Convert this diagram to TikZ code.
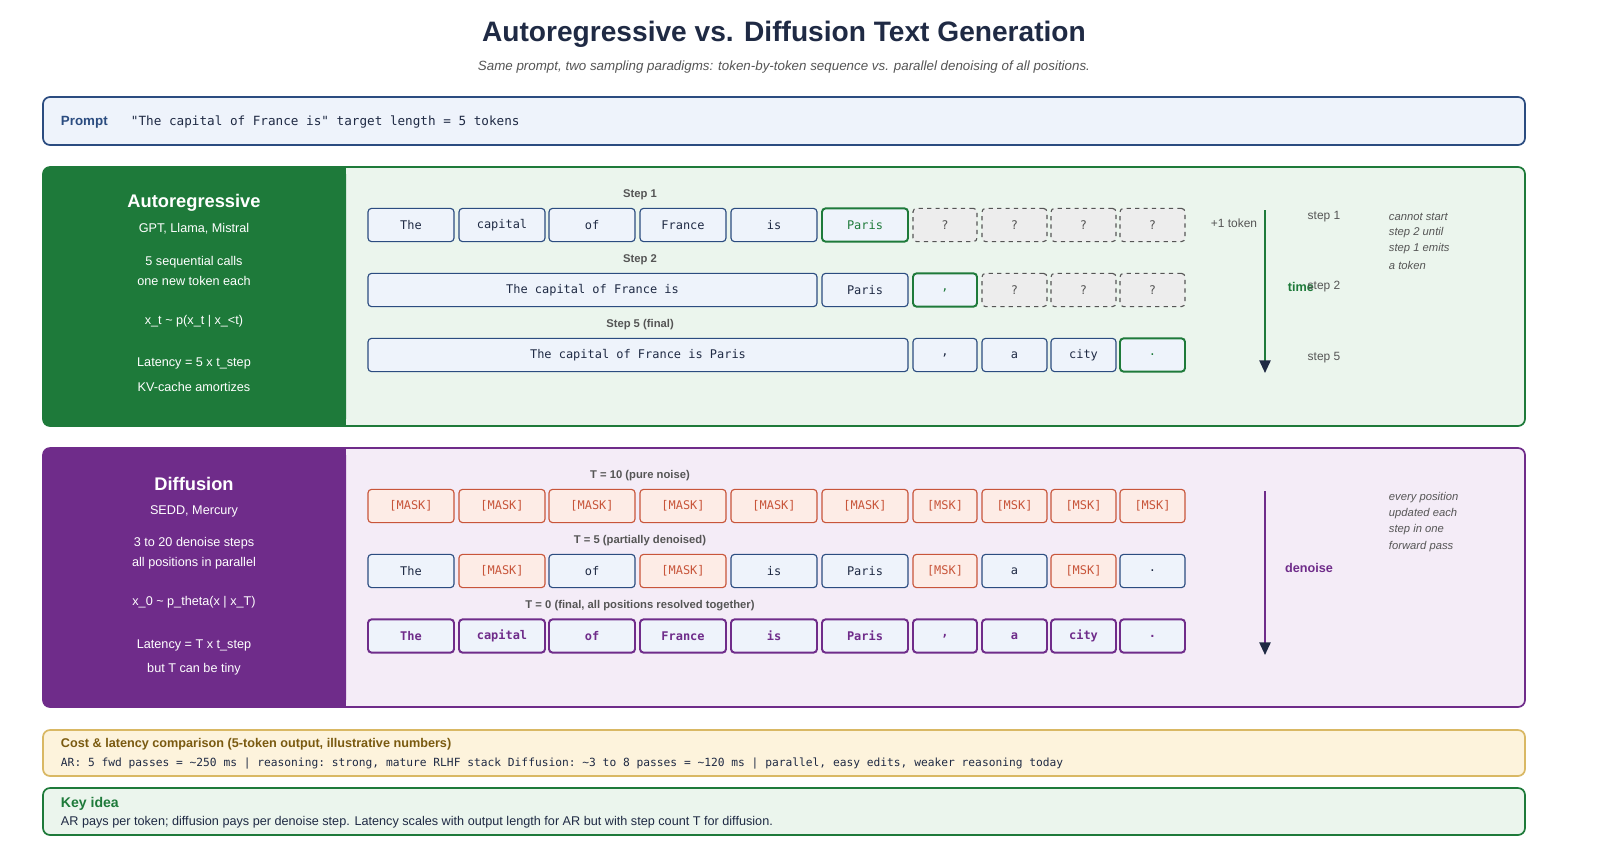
\documentclass[tikz,border=0pt]{standalone}
\usepackage{fontspec}
\setmainfont{Liberation Sans}
\setmonofont{DejaVu Sans Mono}
\usetikzlibrary{arrows.meta}
\definecolor{navy}{HTML}{1F2A44}
\definecolor{arG}{HTML}{1E7A3A}
\definecolor{arBg}{HTML}{EBF5ED}
\definecolor{dfP}{HTML}{6F2C8A}
\definecolor{dfBg}{HTML}{F4ECF7}
\definecolor{tkB}{HTML}{2B4C80}
\definecolor{tkBg}{HTML}{EEF3FB}
\definecolor{mkR}{HTML}{C8553A}
\definecolor{mkBg}{HTML}{FDECE6}
\definecolor{gry}{HTML}{555555}
\definecolor{cstBg}{HTML}{FDF3DC}
\definecolor{cstB}{HTML}{D9B864}
\definecolor{cstT}{HTML}{7A5A10}
\newcommand{\fs}[1]{\fontsize{#1}{#1}\selectfont}
\newcommand{\tok}[6][blu]{\node[tok,#1,minimum width={(#4-#3-2)*0.025cm}] (#2) at ({(#3+#4)/2},#5) {#6};}

\begin{document}
\begin{tikzpicture}[x=0.025cm,y=-0.025cm,
panel/.style={draw, line width=1.2pt, rounded corners=5pt},
tok/.style={rectangle, rounded corners=2.5pt, line width=0.8pt, minimum height=0.83cm, inner sep=0pt, font=\ttfamily\fs{8.5}},
blu/.style={draw=tkB, fill=tkBg, text=navy},
msk/.style={draw=mkR, fill=mkBg, text=mkR},
unk/.style={draw=gry, dashed, fill=black!7, text=gry},
newg/.style={draw=arG, line width=1.4pt, fill=tkBg, text=arG},
fin/.style={draw=dfP, line width=1.4pt, fill=tkBg, text=dfP, font=\ttfamily\bfseries\fs{8.5}},
lbl/.style={font=\bfseries\fs{8}, text=gry},
side/.style={text=white, font=\fs{9}, align=center},
note/.style={font=\itshape\fs{8}, text=gry, anchor=west},
]
\useasboundingbox[fill=white] (0,0) rectangle (1600,861);

% title
\node (title) at (784,34) {\bfseries\fs{20}\color{navy}Autoregressive vs. Diffusion Text Generation};
\node (sub) at (784,67) {\itshape\fs{9.5}\color{gry}Same prompt, two sampling paradigms: token-by-token sequence vs. parallel denoising of all positions.};

% prompt
\draw[panel, draw=tkB, fill=tkBg] (43,97) rectangle (1525,145);
\node[anchor=west, text=tkB, font=\bfseries\fs{9.5}] (prm) at (56,122) {Prompt};
\node[anchor=west, text=navy, font=\ttfamily\fs{9}] (prmtxt) at (126,122) {"The capital of France is" target length = 5 tokens};

% autoregressive panel
\draw[panel, draw=arG, fill=arBg] (43,167) rectangle (1525,426);
\fill[arG, rounded corners=5pt] (43,167) rectangle (346,426);
\fill[arG] (300,167) rectangle (346,426);
\node[side, font=\bfseries\fs{13}] (arh) at (194,203) {Autoregressive};
\node[side] (ar1) at (194,229) {GPT, Llama, Mistral};
\node[side] (ar2) at (194,262) {5 sequential calls};
\node[side] (ar3) at (194,281) {one new token each};
\node[side] (ar4) at (194,321) {x\_t \textasciitilde{} p(x\_t | x\_<t)};
\node[side] (ar5) at (194,363) {Latency = 5 x t\_step};
\node[side] (ar6) at (194,387) {KV-cache amortizes};

\node[lbl] (s1) at (640,195) {Step 1};
\tok{a1}{367}{455}{225}{The}
\tok{a2}{458}{546}{225}{capital}
\tok{a3}{548}{636}{225}{of}
\tok{a4}{639}{727}{225}{France}
\tok{a5}{730}{818}{225}{is}
\tok[newg]{a6}{821}{909}{225}{Paris}
\foreach \i/\xa/\xb in {7/912/978, 8/981/1048, 9/1050/1117, 10/1119/1186}
  {\tok[unk]{a\i}{\xa}{\xb}{225}{?}}

\node[lbl] (s2) at (640,260) {Step 2};
\tok{b1}{367}{818}{290}{The capital of France is}
\tok{b2}{821}{909}{290}{Paris}
\tok[newg]{b3}{912}{978}{290}{,}
\foreach \i/\xa/\xb in {4/981/1048, 5/1050/1117, 6/1119/1186}
  {\tok[unk]{b\i}{\xa}{\xb}{290}{?}}

\node[lbl] (s5) at (640,325) {Step 5 (final)};
\tok{c1}{367}{909}{355}{The capital of France is Paris}
\tok{c2}{912}{978}{355}{,}
\tok{c3}{981}{1048}{355}{a}
\tok{c4}{1050}{1117}{355}{city}
\tok[newg]{c5}{1119}{1186}{355}{.}

\coordinate (tA) at (1265,210);
\coordinate (tB) at (1265,373);
\draw[arG, line width=1.3pt, -{Triangle[color=navy, length=9pt, width=8pt]}] (tA) -- (tB);
\node[font=\fs{8.5}, text=gry] (plus) at (1234,223) {+1 token};
\node[font=\bfseries\fs{9}, text=arG, anchor=west] (time) at (1283,287) {time};
\node[font=\fs{8.5}, text=gry] (st1) at (1324,217) {step 1};
\node[font=\fs{8.5}, text=gry] (st2) at (1324,287) {step 2};
\node[font=\fs{8.5}, text=gry] (st5) at (1324,358) {step 5};
\node[note] (n1) at (1384,217) {cannot start};
\node[note] (n2) at (1384,233) {step 2 until};
\node[note] (n3) at (1384,249) {step 1 emits};
\node[note] (n4) at (1384,265) {a token};

% diffusion panel
\draw[panel, draw=dfP, fill=dfBg] (43,448) rectangle (1525,707);
\fill[dfP, rounded corners=5pt] (43,448) rectangle (346,707);
\fill[dfP] (300,448) rectangle (346,707);
\node[side, font=\bfseries\fs{13}] (dfh) at (194,484) {Diffusion};
\node[side] (df1) at (194,511) {SEDD, Mercury};
\node[side] (df2) at (194,543) {3 to 20 denoise steps};
\node[side] (df3) at (194,563) {all positions in parallel};
\node[side] (df4) at (194,602) {x\_0 \textasciitilde{} p\_theta(x | x\_T)};
\node[side] (df5) at (194,645) {Latency = T x t\_step};
\node[side] (df6) at (194,669) {but T can be tiny};

\node[lbl] (t10) at (640,476) {T = 10 (pure noise)};
\foreach \i/\xa/\xb in {1/367/455, 2/458/546, 3/548/636, 4/639/727, 5/730/818, 6/821/909}
  {\tok[msk]{d\i}{\xa}{\xb}{506}{[MASK]}}
\foreach \i/\xa/\xb in {7/912/978, 8/981/1048, 9/1050/1117, 10/1119/1186}
  {\tok[msk]{d\i}{\xa}{\xb}{506}{[MSK]}}

\node[lbl] (t5) at (640,541) {T = 5 (partially denoised)};
\tok{e1}{367}{455}{571}{The}
\tok[msk]{e2}{458}{546}{571}{[MASK]}
\tok{e3}{548}{636}{571}{of}
\tok[msk]{e4}{639}{727}{571}{[MASK]}
\tok{e5}{730}{818}{571}{is}
\tok{e6}{821}{909}{571}{Paris}
\tok[msk]{e7}{912}{978}{571}{[MSK]}
\tok{e8}{981}{1048}{571}{a}
\tok[msk]{e9}{1050}{1117}{571}{[MSK]}
\tok{e10}{1119}{1186}{571}{.}

\node[lbl] (t0) at (640,606) {T = 0 (final, all positions resolved together)};
\foreach \i/\xa/\xb/\w in {1/367/455/The, 2/458/546/capital, 3/548/636/of, 4/639/727/France, 5/730/818/is, 6/821/909/Paris, 7/912/978/{,}, 8/981/1048/a, 9/1050/1117/city, 10/1119/1186/.}
  {\tok[fin]{f\i}{\xa}{\xb}{636}{\w}}

\coordinate (dA) at (1265,491);
\coordinate (dB) at (1265,655);
\draw[dfP, line width=1.3pt, -{Triangle[color=navy, length=9pt, width=8pt]}] (dA) -- (dB);
\node[font=\bfseries\fs{9}, text=dfP] (den) at (1309,568) {denoise};
\node[note] (m1) at (1384,498) {every position};
\node[note] (m2) at (1384,514) {updated each};
\node[note] (m3) at (1384,530) {step in one};
\node[note] (m4) at (1384,547) {forward pass};

% cost box
\draw[panel, draw=cstB, fill=cstBg] (43,730) rectangle (1525,776);
\node[anchor=west, text=cstT, font=\bfseries\fs{9}] (cst) at (56,744) {Cost \& latency comparison (5-token output, illustrative numbers)};
\node[anchor=west, text=navy, font=\ttfamily\fs{8}] (csttxt) at (56,764) {AR: 5 fwd passes = \textasciitilde250 ms | reasoning: strong, mature RLHF stack Diffusion: \textasciitilde3 to 8 passes = \textasciitilde120 ms | parallel, easy edits, weaker reasoning today};

% key idea
\draw[panel, draw=arG, fill=arBg] (43,788) rectangle (1525,835);
\node[anchor=west, text=arG, font=\bfseries\fs{10}] (key) at (56,804) {Key idea};
\node[anchor=west, text=navy, font=\fs{9}] (keytxt) at (56,822) {AR pays per token; diffusion pays per denoise step. Latency scales with output length for AR but with step count T for diffusion.};
\end{tikzpicture}
\end{document}
